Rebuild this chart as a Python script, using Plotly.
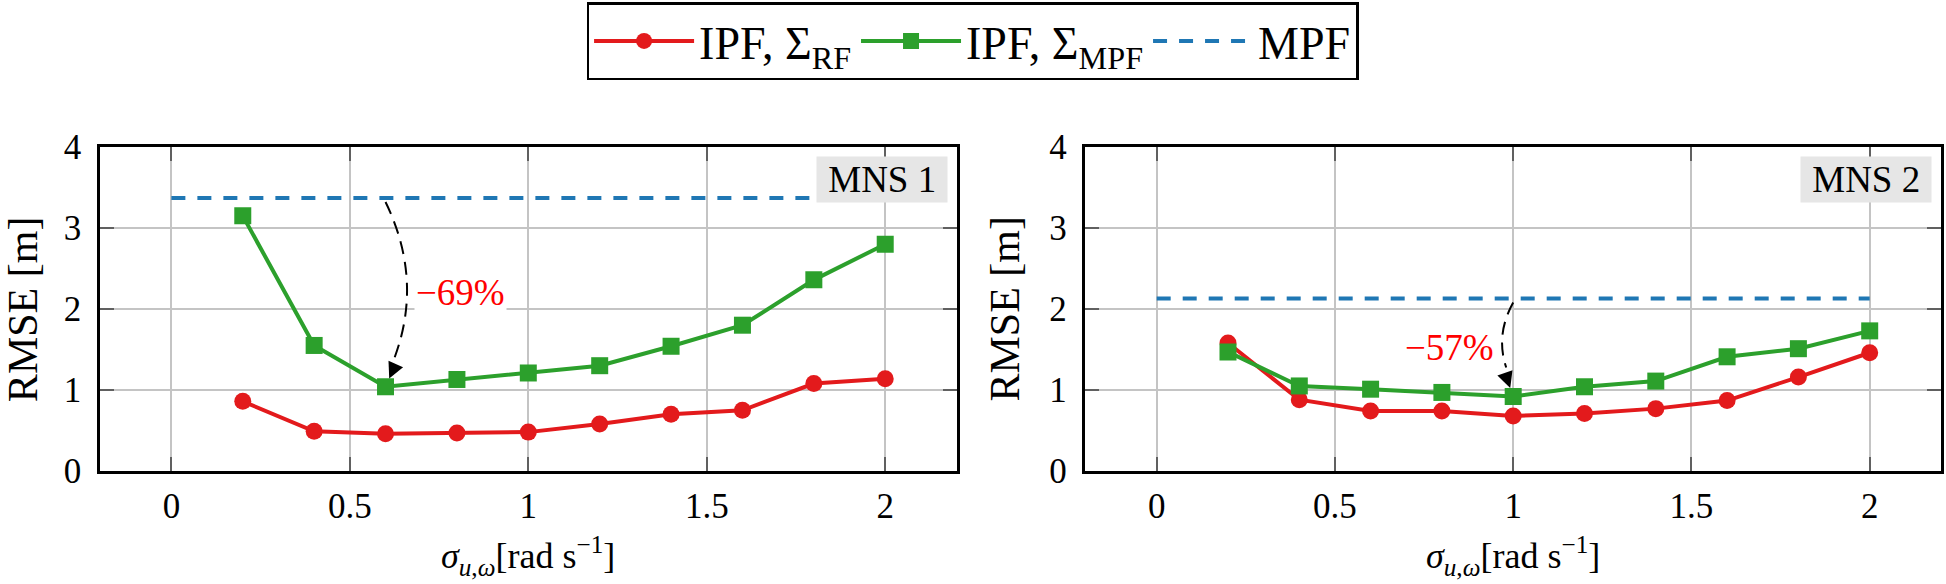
import plotly.graph_objects as go

# ---------------- data ----------------
sigma = [0.2, 0.4, 0.6, 0.8, 1.0, 1.2, 1.4, 1.6, 1.8, 2.0]
mns1_ipf_rf = [0.86, 0.49, 0.46, 0.47, 0.48, 0.58, 0.70, 0.75, 1.08, 1.14]
mns1_ipf_mpf = [3.15, 1.55, 1.04, 1.13, 1.21, 1.30, 1.54, 1.80, 2.36, 2.80]
mns1_mpf = 3.37
mns2_ipf_rf = [1.58, 0.88, 0.74, 0.74, 0.68, 0.71, 0.77, 0.87, 1.16, 1.46]
mns2_ipf_mpf = [1.47, 1.05, 1.01, 0.97, 0.92, 1.04, 1.11, 1.41, 1.51, 1.73]
mns2_mpf = 2.13
mpf_x = [0, 2]
xtick_vals = [0, 0.5, 1, 1.5, 2]
xtick_text = ["0", "0.5", "1", "1.5", "2"]
ytick_vals = [0, 1, 2, 3, 4]
panel_labels = ["MNS 1", "MNS 2"]
reduction_labels = ["\u221269%", "\u221257%"]
best_idx = [2, 4]   # sigma = 0.6 (MNS 1), sigma = 1.0 (MNS 2)
x_title = "<i>\u03c3</i><sub><i>u</i>,<i>\u03c9</i></sub>[rad s<sup>\u22121</sup>]"
y_title = "RMSE [m]"

RED = "#e31a1c"
GREEN = "#2ca02c"
BLUE = "#1f77b4"
FONT = "Liberation Serif"

W, H = 1946, 584
ML, MR, MT, MB = 100, 2, 147, 113
PW = W - ML - MR
PH = H - MT - MB

fig = go.Figure()

panels = [
    (mns1_ipf_rf, mns1_ipf_mpf, mns1_mpf, "x", "y"),
    (mns2_ipf_rf, mns2_ipf_mpf, mns2_mpf, "x2", "y2"),
]
for i, (rf, mp, mpf, xa, ya) in enumerate(panels):
    show = i == 0
    fig.add_trace(go.Scatter(
        x=sigma, y=rf, mode="lines+markers", name="IPF, \u03a3<sub>RF</sub>",
        line=dict(color=RED, width=4), marker=dict(symbol="circle", size=17, color=RED),
        xaxis=xa, yaxis=ya, showlegend=show, legendrank=1))
    fig.add_trace(go.Scatter(
        x=sigma, y=mp, mode="lines+markers", name="IPF, \u03a3<sub>MPF</sub>",
        line=dict(color=GREEN, width=4), marker=dict(symbol="square", size=17, color=GREEN),
        xaxis=xa, yaxis=ya, showlegend=show, legendrank=2))
    fig.add_trace(go.Scatter(
        x=mpf_x, y=[mpf, mpf], mode="lines", name="MPF",
        line=dict(color=BLUE, width=4, dash="14px,12px"),
        xaxis=xa, yaxis=ya, showlegend=show, legendrank=3))

dom1 = [0, 858 / PW]
dom2 = [987 / PW, 1.0]
xr = [-0.2, 2.2]
yr = [0, 4]

axis_common = dict(
    showgrid=True, gridcolor="#c4c4c4", gridwidth=2,
    showline=True, linecolor="black", linewidth=2.5, mirror="ticks",
    ticks="inside", ticklen=14, tickwidth=2, tickcolor="#606060",
    zeroline=False, tickfont=dict(family=FONT, size=35, color="black"),
)
for k, dom in ((1, dom1), (2, dom2)):
    sfx = "" if k == 1 else str(k)
    fig.update_layout(**{
        "xaxis" + sfx: dict(axis_common, domain=dom, range=xr, tickvals=xtick_vals,
                             ticktext=xtick_text, anchor="y" + sfx, ticklabelstandoff=2),
        "yaxis" + sfx: dict(axis_common, domain=[0, 1], range=yr, tickvals=ytick_vals,
                             anchor="x" + sfx, ticklabelstandoff=9),
    })

# px -> data conversion
xpx = (xr[1] - xr[0]) / (858)
ypx = (yr[1] - yr[0]) / PH

shapes = []
annotations = []

# axis titles (placed as annotations for exact positioning)
for p, (dom, ylab_px) in enumerate(((dom1, 23), (dom2, 1006))):
    xa, ya = panels[p][3], panels[p][4]
    annotations.append(dict(
        x=0.5, y=-(556 - (MT + PH)) / PH, xref=xa + " domain", yref="paper",
        text=x_title, showarrow=False, xanchor="center", yanchor="middle",
        font=dict(family=FONT, size=36, color="black")))
    annotations.append(dict(
        x=(ylab_px - ML) / PW, y=0.5, xref="paper", yref="paper",
        text=y_title, showarrow=False, xanchor="center", yanchor="middle",
        textangle=-90, font=dict(family=FONT, size=42, color="black")))

curves = [
    # (panel, bulge in px (positive = right), arrow tail offset)
    (0, 38, (9, -20)),
    (1, -18, (-7, -20)),
]
for (p, bulge, (axo, ayo)) in curves:
    rf, mp, mpf, xa, ya = panels[p]
    bi = best_idx[p]
    xb = sigma[bi]
    tip_y = mp[bi]
    tail_x = xb + axo * xpx
    tail_y = tip_y - ayo * ypx + 9 * ypx
    y0 = mpf - 4 * ypx
    cx = xb + bulge * xpx
    cy = (y0 + tail_y) / 2
    shapes.append(dict(
        type="path", xref=xa, yref=ya,
        path=f"M {xb},{y0} Q {cx},{cy} {tail_x},{tail_y}",
        line=dict(color="black", width=2, dash="13px,8px"), layer="above"))
    annotations.append(dict(
        x=xb, y=tip_y, xref=xa, yref=ya, ax=axo, ay=ayo, axref="pixel", ayref="pixel",
        showarrow=True, arrowhead=2, arrowsize=1.6, arrowwidth=2, arrowcolor="black",
        standoff=9, text=""))

# reduction labels
label_pos = [(0.811, 2.20), (0.82, 1.52)]
for p, ((lx, ly), txt) in enumerate(zip(label_pos, reduction_labels)):
    xa, ya = panels[p][3], panels[p][4]
    annotations.append(dict(
        x=lx, y=ly, xref=xa, yref=ya, text=txt, showarrow=False,
        font=dict(family=FONT, size=37, color="#ff0000"),
        bgcolor="white", borderpad=1))

# panel tags
for p, txt in enumerate(panel_labels):
    xa, ya = panels[p][3], panels[p][4]
    annotations.append(dict(
        x=1 - 9 / 858, y=1 - 9 / PH, xref=xa + " domain", yref=ya + " domain",
        xanchor="right", yanchor="top", text="\u00a0" + txt + "\u00a0", showarrow=False,
        font=dict(family=FONT, size=37, color="black"),
        bgcolor="#e6e6e6", borderpad=2))

fig.update_layout(
    width=W, height=H,
    margin=dict(l=ML, r=MR, t=MT, b=MB),
    paper_bgcolor="white", plot_bgcolor="white",
    shapes=shapes, annotations=annotations,
    font=dict(family=FONT, color="black"),
    legend=dict(
        orientation="h", x=(974 - ML) / PW, xanchor="center",
        y=1 + (MT - 2) / PH, yanchor="top",
        bordercolor="black", borderwidth=2.5, bgcolor="white",
        font=dict(family=FONT, size=46, color="black"),
        itemwidth=100, tracegroupgap=0,
    ),
)

fig.write_html("out.html", config={"displayModeBar": False},
               post_script="document.body.style.margin='0';document.body.style.overflow='hidden';")
